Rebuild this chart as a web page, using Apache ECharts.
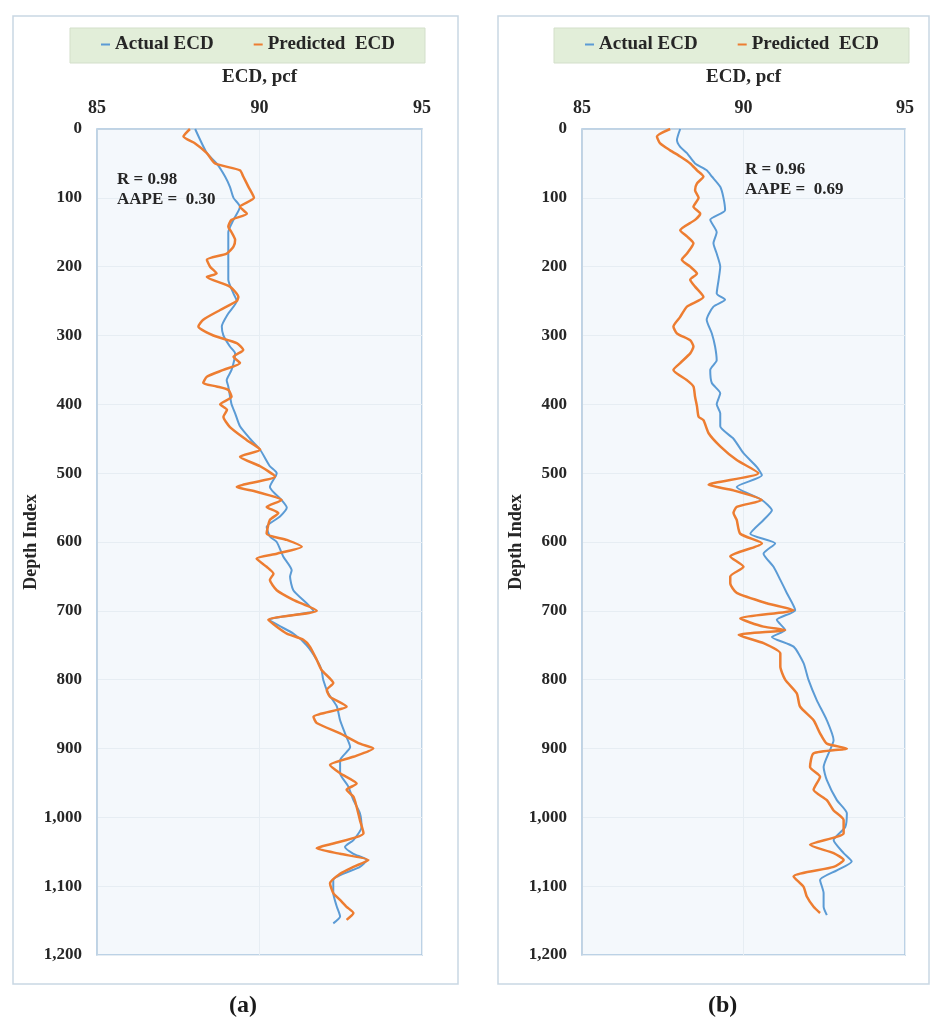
<!DOCTYPE html>
<html>
<head>
<meta charset="utf-8">
<title>ECD vs Depth Index</title>
<script src="https://cdn.jsdelivr.net/npm/echarts@6/dist/echarts.min.js"></script>
<style>
  html, body { margin: 0; padding: 0; background: #ffffff; }
  #chart { width: 933px; height: 1025px; }
</style>
</head>
<body>
<div id="chart"></div>
<script>
// Depth index vs ECD (pcf), [depth, ecd] pairs for each curve.
const actualA = [[0,88.02],[35,88.38],[50,88.68],[69,88.94],[84,89.09],[100,89.20],[113,89.40],[132,89.20],[150,89.04],[181,89.04],[200,89.04],[219,89.04],[239,89.20],[250,89.30],[268,89.04],[287,88.84],[300,88.89],[316,89.09],[326,89.25],[350,89.14],[365,88.99],[374,89.04],[400,89.14],[413,89.25],[432,89.40],[450,89.71],[466,90.02],[490,90.32],[500,90.53],[520,90.32],[539,90.68],[550,90.84],[563,90.63],[578,90.22],[592,90.32],[600,90.53],[621,90.73],[641,90.99],[650,90.94],[670,91.04],[689,91.45],[700,91.66],[713,90.32],[733,91.04],[750,91.45],[771,91.76],[786,91.91],[800,91.96],[820,92.12],[839,92.38],[859,92.48],[878,92.63],[898,92.79],[917,92.48],[936,92.48],[955,92.73],[975,92.89],[994,93.09],[1014,93.14],[1033,92.89],[1043,92.63],[1053,92.89],[1062,93.30],[1072,93.09],[1091,92.27],[1110,92.27],[1130,92.38],[1144,92.48],[1154,92.27]];

const predictedA = [[0,87.86],[11,87.66],[21,88.02],[35,88.38],[50,88.63],[60,89.40],[69,89.50],[84,89.66],[100,89.83],[113,89.40],[123,89.61],[132,89.14],[142,89.04],[150,89.14],[161,89.25],[171,89.20],[181,88.99],[190,88.38],[200,88.48],[210,88.68],[215,88.38],[229,89.09],[244,89.35],[250,89.30],[263,88.79],[277,88.27],[287,88.12],[300,88.58],[311,89.30],[321,89.50],[331,89.20],[340,89.40],[350,88.89],[360,88.38],[369,88.27],[374,88.68],[379,89.04],[389,89.14],[400,88.79],[408,89.00],[418,88.89],[433,89.09],[452,89.61],[466,90.02],[476,89.40],[490,90.02],[505,90.48],[520,89.30],[527,89.91],[539,90.68],[549,90.22],[558,90.58],[568,90.32],[588,90.22],[597,90.84],[607,91.30],[617,90.53],[624,89.91],[636,90.22],[646,90.43],[655,90.32],[670,90.53],[684,91.04],[700,91.76],[713,90.27],[723,90.53],[733,90.84],[742,91.35],[752,91.55],[771,91.76],[786,91.91],[805,92.27],[815,92.07],[825,92.17],[839,92.68],[854,91.66],[863,91.76],[878,92.48],[893,93.09],[900,93.50],[912,92.89],[924,92.17],[936,92.48],[951,92.99],[960,92.68],[970,92.89],[985,92.99],[1004,93.09],[1023,93.20],[1038,92.27],[1045,91.76],[1053,92.48],[1062,93.35],[1072,92.89],[1082,92.48],[1096,92.17],[1110,92.27],[1120,92.48],[1130,92.68],[1139,92.89],[1149,92.68]];

const actualB = [[0,88.04],[16,87.94],[26,88.04],[35,88.25],[50,88.50],[60,88.86],[69,89.02],[84,89.28],[100,89.38],[118,89.43],[132,88.97],[150,89.17],[166,89.07],[181,89.17],[200,89.28],[219,89.23],[239,89.17],[248,89.43],[258,89.07],[277,88.86],[297,89.02],[316,89.12],[336,89.17],[350,88.97],[369,89.02],[384,89.28],[400,89.17],[413,89.28],[432,89.28],[450,89.69],[471,90.00],[491,90.41],[503,90.57],[520,89.79],[539,90.57],[554,90.88],[568,90.62],[588,90.21],[602,90.98],[617,90.62],[636,90.93],[655,91.14],[674,91.34],[699,91.60],[713,91.03],[728,91.29],[738,90.88],[752,91.55],[776,91.86],[800,92.01],[830,92.27],[859,92.58],[888,92.79],[902,92.68],[927,92.48],[946,92.58],[975,92.89],[994,93.20],[1014,93.15],[1033,92.79],[1052,93.10],[1064,93.35],[1077,92.89],[1091,92.37],[1110,92.48],[1130,92.48],[1142,92.58]];

const predictedB = [[0,87.73],[11,87.32],[21,87.42],[31,87.73],[40,88.04],[50,88.35],[60,88.56],[69,88.76],[79,88.56],[89,88.50],[100,88.61],[113,88.45],[123,88.66],[132,88.50],[147,88.04],[156,88.25],[166,88.45],[181,88.25],[190,88.09],[200,88.35],[210,88.56],[219,88.35],[229,88.50],[244,88.76],[258,88.25],[273,88.04],[287,87.83],[297,87.94],[307,88.35],[316,88.45],[326,88.35],[340,88.04],[350,87.83],[365,88.25],[374,88.45],[389,88.50],[403,88.56],[418,88.61],[423,88.76],[442,88.92],[461,89.28],[481,89.79],[500,90.46],[517,88.92],[525,89.69],[539,90.57],[549,89.79],[558,89.69],[568,89.79],[588,89.90],[602,90.57],[621,89.59],[636,90.00],[650,89.59],[660,89.59],[674,89.79],[689,90.72],[699,91.55],[711,89.90],[723,90.62],[728,91.29],[735,89.85],[747,90.62],[762,91.14],[781,91.14],[800,91.29],[820,91.65],[839,91.75],[859,92.17],[878,92.37],[893,92.58],[900,93.20],[907,92.17],[927,92.06],[941,92.37],[960,92.17],[975,92.58],[990,92.79],[1004,93.10],[1023,93.10],[1040,92.06],[1052,92.79],[1062,93.10],[1072,92.79],[1086,91.55],[1101,91.86],[1115,91.96],[1130,92.17],[1139,92.37]];

const seriesNames = ['Actual ECD', 'Predicted  ECD'];
const ecdTicks = { min: 85, max: 95, interval: 5 };
const depthTicks = { min: 0, max: 1200, interval: 100 };
const statsA = ['R = 0.98', 'AAPE =  0.30'];
const statsB = ['R = 0.96', 'AAPE =  0.69'];
const panelLabels = ['(a)', '(b)'];

const FONT = "'Liberation Serif', 'Times New Roman', 'DejaVu Serif', serif";
const TEXT = '#262626';
const BLUE = '#5b9bd5';
const ORANGE = '#ed7d31';

const grids = [
  { left: 97, top: 129, width: 325, height: 826 },
  { left: 582, top: 129, width: 323, height: 826 }
];

function xAxisFor(i) {
  return {
    gridIndex: i, type: 'value', position: 'top',
    min: ecdTicks.min, max: ecdTicks.max, interval: ecdTicks.interval,
    name: 'ECD, pcf', nameLocation: 'middle', nameGap: 42,
    nameTextStyle: { fontFamily: FONT, fontWeight: 'bold', fontSize: 19, color: TEXT },
    axisLabel: { fontFamily: FONT, fontWeight: 'bold', fontSize: 18, color: TEXT, margin: 12 },
    axisLine: { show: true, lineStyle: { color: '#c3d4e3', width: 1 } },
    axisTick: { show: false },
    splitLine: { show: true, lineStyle: { color: '#e6edf3', width: 1 } }
  };
}

function yAxisFor(i) {
  return {
    gridIndex: i, type: 'value', inverse: true,
    min: depthTicks.min, max: depthTicks.max, interval: depthTicks.interval,
    name: 'Depth Index', nameLocation: 'middle', nameGap: 54, nameRotate: 90,
    nameTextStyle: { fontFamily: FONT, fontWeight: 'bold', fontSize: 18, color: TEXT },
    axisLabel: {
      fontFamily: FONT, fontWeight: 'bold', fontSize: 17, color: TEXT, margin: 15,
      formatter: v => v.toLocaleString('en-US')
    },
    axisLine: { show: true, lineStyle: { color: '#c3d4e3', width: 1 } },
    axisTick: { show: false },
    splitLine: { show: true, lineStyle: { color: '#e6edf3', width: 1 } }
  };
}

function lineSeries(name, pairs, idx, color, width) {
  return {
    type: 'line', name: name, xAxisIndex: idx, yAxisIndex: idx,
    data: pairs.map(p => [p[1], p[0]]),
    showSymbol: false, smooth: 0.2,
    lineStyle: { color: color, width: width },
    itemStyle: { color: color },
    emphasis: { disabled: true }
  };
}

function legendFor(left) {
  return {
    data: seriesNames, left: left, top: 35, padding: 0,
    icon: 'rect', itemWidth: 9, itemHeight: 2, itemGap: 40,
    selectedMode: false,
    textStyle: { fontFamily: FONT, fontWeight: 'bold', fontSize: 19, color: TEXT }
  };
}

function statText(x, y, text) {
  return {
    type: 'text', left: x, top: y, z: 10,
    style: { text: text, font: 'bold 17px ' + FONT, fill: TEXT }
  };
}

const chart = echarts.init(document.getElementById('chart'), null, { renderer: 'canvas' });

chart.setOption({
  backgroundColor: '#ffffff',
  animation: false,
  grid: grids.map(g => Object.assign({
    show: true, backgroundColor: '#f4f8fc', borderColor: '#a9c5de', borderWidth: 1.5
  }, g)),
  xAxis: [xAxisFor(0), xAxisFor(1)],
  yAxis: [yAxisFor(0), yAxisFor(1)],
  legend: [legendFor(101), legendFor(585)],
  series: [
    lineSeries(seriesNames[0], actualA, 0, BLUE, 2),
    lineSeries(seriesNames[1], predictedA, 0, ORANGE, 2.5),
    lineSeries(seriesNames[0], actualB, 1, BLUE, 2),
    lineSeries(seriesNames[1], predictedB, 1, ORANGE, 2.5)
  ],
  graphic: [
    { type: 'rect', z: -10, shape: { x: 13, y: 16, width: 445, height: 968 },
      style: { fill: '#ffffff', stroke: '#c9d7e3', lineWidth: 1.5 } },
    { type: 'rect', z: -10, shape: { x: 498, y: 16, width: 431, height: 968 },
      style: { fill: '#ffffff', stroke: '#c9d7e3', lineWidth: 1.5 } },
    { type: 'rect', z: -9, shape: { x: 70, y: 28, width: 355, height: 35 },
      style: { fill: '#e2eed9', stroke: '#d3dfca', lineWidth: 1 } },
    { type: 'rect', z: -9, shape: { x: 554, y: 28, width: 355, height: 35 },
      style: { fill: '#e2eed9', stroke: '#d3dfca', lineWidth: 1 } },
    statText(117, 171, statsA[0]),
    statText(117, 191, statsA[1]),
    statText(745, 161, statsB[0]),
    statText(745, 181, statsB[1]),
    { type: 'text', left: 229, top: 994, z: 10,
      style: { text: panelLabels[0], font: 'bold 24px ' + FONT, fill: '#1a1a1a' } },
    { type: 'text', left: 708, top: 994, z: 10,
      style: { text: panelLabels[1], font: 'bold 24px ' + FONT, fill: '#1a1a1a' } }
  ]
});
</script>
</body>
</html>
